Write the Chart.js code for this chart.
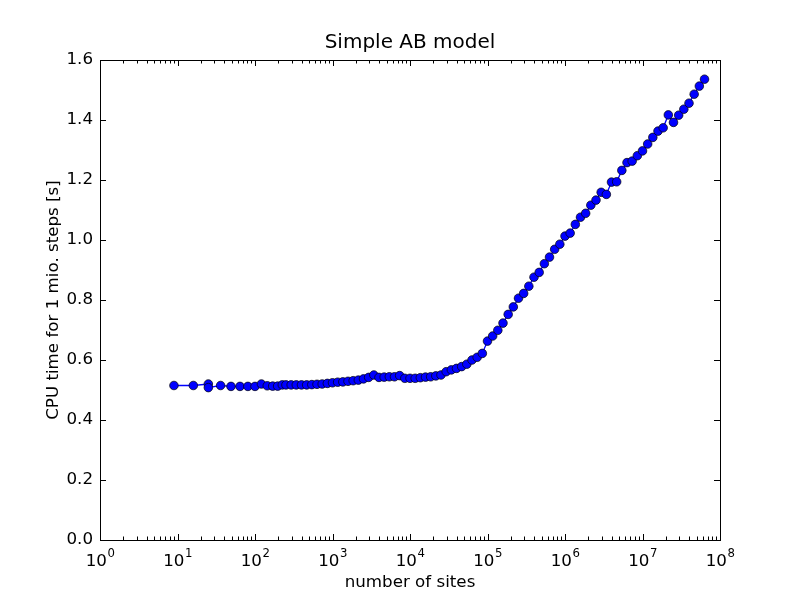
<!DOCTYPE html>
<html>
<head>
<meta charset="utf-8">
<script src="https://cdn.jsdelivr.net/npm/chart.js@4.4.1/dist/chart.umd.min.js"></script>
<style>
  html, body { margin: 0; padding: 0; background: #ffffff; }
  #wrap { width: 800px; height: 600px; }
</style>
</head>
<body>
<div id="wrap"><canvas id="c" width="800" height="600"></canvas></div>
<script>
// ---- data ----
const chartTitle = "Simple AB model";
const xAxisTitle = "number of sites";
const yAxisTitle = "CPU time for 1 mio. steps [s]";

const sites = [
  9, 16, 25, 25, 36, 49, 64, 81, 100, 121, 144, 169, 196, 225,
  251, 293, 341, 398, 464, 541, 631, 736, 858,
  1000, 1166, 1359, 1585, 1848, 2154, 2512, 2929, 3415, 3981, 4642, 5412, 6310, 7356, 8577,
  10000, 11659, 13594, 15849, 18478, 21544, 25119, 29286, 34145, 39811, 46416, 54117, 63096, 73564, 85770,
  1.000e5, 1.166e5, 1.359e5, 1.585e5, 1.848e5, 2.154e5, 2.512e5, 2.929e5, 3.415e5, 3.981e5, 4.642e5, 5.412e5, 6.310e5, 7.356e5, 8.577e5,
  1.000e6, 1.166e6, 1.359e6, 1.585e6, 1.848e6, 2.154e6, 2.512e6, 2.929e6, 3.415e6, 3.981e6, 4.642e6, 5.412e6, 6.310e6, 7.356e6, 8.577e6,
  1.000e7, 1.166e7, 1.359e7, 1.585e7, 1.848e7, 2.154e7, 2.512e7, 2.929e7, 3.415e7, 3.981e7, 4.642e7, 5.412e7, 6.310e7
];

const cpuTime = [
  0.515, 0.515, 0.520, 0.508, 0.515, 0.512, 0.512, 0.512, 0.512, 0.520, 0.514, 0.513, 0.513, 0.517,
  0.517, 0.517, 0.517, 0.517, 0.517, 0.518, 0.519, 0.520, 0.522,
  0.524, 0.526, 0.527, 0.529, 0.531, 0.533, 0.537, 0.542, 0.550, 0.542, 0.543, 0.544, 0.544, 0.548, 0.539,
  0.539, 0.539, 0.541, 0.543, 0.544, 0.547, 0.550, 0.561, 0.567, 0.572, 0.578, 0.586, 0.600, 0.609, 0.622,
  0.663, 0.680, 0.699, 0.723, 0.752, 0.777, 0.806, 0.822, 0.846, 0.876, 0.892, 0.921, 0.943, 0.969, 0.986,
  1.013, 1.023, 1.052, 1.076, 1.089, 1.116, 1.133, 1.159, 1.152, 1.193, 1.194, 1.232, 1.258, 1.263, 1.281,
  1.297, 1.320, 1.342, 1.363, 1.374, 1.417, 1.392, 1.416, 1.436, 1.456, 1.486, 1.513, 1.536
];

const xTickExponents = [0, 1, 2, 3, 4, 5, 6, 7, 8];
const yTicks = [0.0, 0.2, 0.4, 0.6, 0.8, 1.0, 1.2, 1.4, 1.6];

// ---- chart ----
const FONT = "'DejaVu Sans', 'Liberation Sans', sans-serif";
const points = sites.map((s, i) => ({ x: s, y: cpuTime[i] }));

const framePlugin = {
  id: 'mplFrame',
  afterDraw(chart) {
    const ctx = chart.ctx;
    const a = chart.chartArea;
    const xs = chart.scales.x, ys = chart.scales.y;
    ctx.save();
    ctx.strokeStyle = '#000000';
    ctx.lineWidth = 1;
    const majorLen = 6, minorLen = 3.5;
    ctx.beginPath();
    xTickExponents.forEach(e => {
      const px = Math.round(xs.getPixelForValue(Math.pow(10, e))) + 0.5;
      ctx.moveTo(px, a.bottom); ctx.lineTo(px, a.bottom - majorLen);
      ctx.moveTo(px, a.top); ctx.lineTo(px, a.top + majorLen);
    });
    for (let e = xTickExponents[0]; e < xTickExponents[xTickExponents.length - 1]; e++) {
      for (let m = 2; m <= 9; m++) {
        const px = Math.round(xs.getPixelForValue(m * Math.pow(10, e))) + 0.5;
        ctx.moveTo(px, a.bottom); ctx.lineTo(px, a.bottom - minorLen);
        ctx.moveTo(px, a.top); ctx.lineTo(px, a.top + minorLen);
      }
    }
    yTicks.forEach(v => {
      const py = Math.round(ys.getPixelForValue(v)) + 0.5;
      ctx.moveTo(a.left, py); ctx.lineTo(a.left + majorLen, py);
      ctx.moveTo(a.right, py); ctx.lineTo(a.right - majorLen, py);
    });
    ctx.stroke();
    ctx.strokeRect(Math.round(a.left) + 0.5, Math.round(a.top) + 0.5,
                   Math.round(a.right - a.left), Math.round(a.bottom - a.top));
    // x tick labels 10^e
    ctx.fillStyle = '#000000';
    ctx.textBaseline = 'alphabetic';
    ctx.textAlign = 'left';
    xTickExponents.forEach(e => {
      const px = xs.getPixelForValue(Math.pow(10, e));
      ctx.font = '16.7px ' + FONT;
      const w1 = ctx.measureText('10').width;
      ctx.font = '11.7px ' + FONT;
      const w2 = ctx.measureText(String(e)).width;
      const x0 = px - (w1 + w2) / 2;
      ctx.font = '16.7px ' + FONT;
      ctx.fillText('10', x0, a.bottom + 25.5);
      ctx.font = '11.7px ' + FONT;
      ctx.fillText(String(e), x0 + w1 + 0.5, a.bottom + 17);
    });
    ctx.restore();
  }
};

const bgPlugin = {
  id: 'bg',
  beforeDraw(chart) {
    const ctx = chart.ctx;
    ctx.save();
    ctx.fillStyle = '#ffffff';
    ctx.fillRect(0, 0, chart.width, chart.height);
    ctx.restore();
  }
};

new Chart(document.getElementById('c'), {
  type: 'line',
  data: {
    datasets: [{
      data: points,
      xAxisID: 'x',
      yAxisID: 'y',
      borderColor: '#0000ff',
      borderWidth: 1.3,
      backgroundColor: '#0000ff',
      pointBackgroundColor: '#0000ff',
      pointBorderColor: '#000000',
      pointBorderWidth: 0.7,
      pointRadius: 4.3,
      tension: 0,
      fill: false
    }]
  },
  options: {
    responsive: false,
    devicePixelRatio: 1,
    animation: false,
    layout: { padding: { left: 0, right: 80, top: 0, bottom: 0 } },
    plugins: {
      legend: { display: false },
      tooltip: { enabled: false },
      title: { display: false }
    },
    scales: {
      x: {
        type: 'logarithmic',
        position: 'bottom',
        min: 1,
        max: 1e8,
        grid: { display: false, drawTicks: false },
        border: { display: false },
        ticks: { display: false },
        title: {
          display: true,
          text: xAxisTitle,
          color: '#000000',
          font: { family: FONT, size: 16.7 },
          padding: { top: 0, bottom: 7 }
        },
        afterFit(scale) { scale.height = 60; }
      },
      xTop: {
        type: 'logarithmic',
        position: 'top',
        min: 1,
        max: 1e8,
        grid: { display: false, drawTicks: false },
        border: { display: false },
        ticks: { display: false },
        title: {
          display: true,
          text: chartTitle,
          color: '#000000',
          font: { family: FONT, size: 20 },
          padding: { top: 30.5, bottom: 0 }
        },
        afterFit(scale) { scale.height = 60; }
      },
      y: {
        type: 'linear',
        position: 'left',
        min: 0,
        max: 1.6,
        grid: { display: false, drawTicks: false },
        border: { display: false },
        afterBuildTicks(scale) { scale.ticks = yTicks.map(v => ({ value: v })); },
        ticks: {
          color: '#000000',
          font: { family: FONT, size: 16.7 },
          padding: 7,
          callback: v => Number(v).toFixed(1)
        },
        title: {
          display: true,
          text: yAxisTitle,
          color: '#000000',
          font: { family: FONT, size: 16.7 },
          padding: { top: 43.5, bottom: 0 }
        },
        afterFit(scale) { scale.width = 100; }
      }
    }
  },
  plugins: [bgPlugin, framePlugin]
});
</script>
</body>
</html>
